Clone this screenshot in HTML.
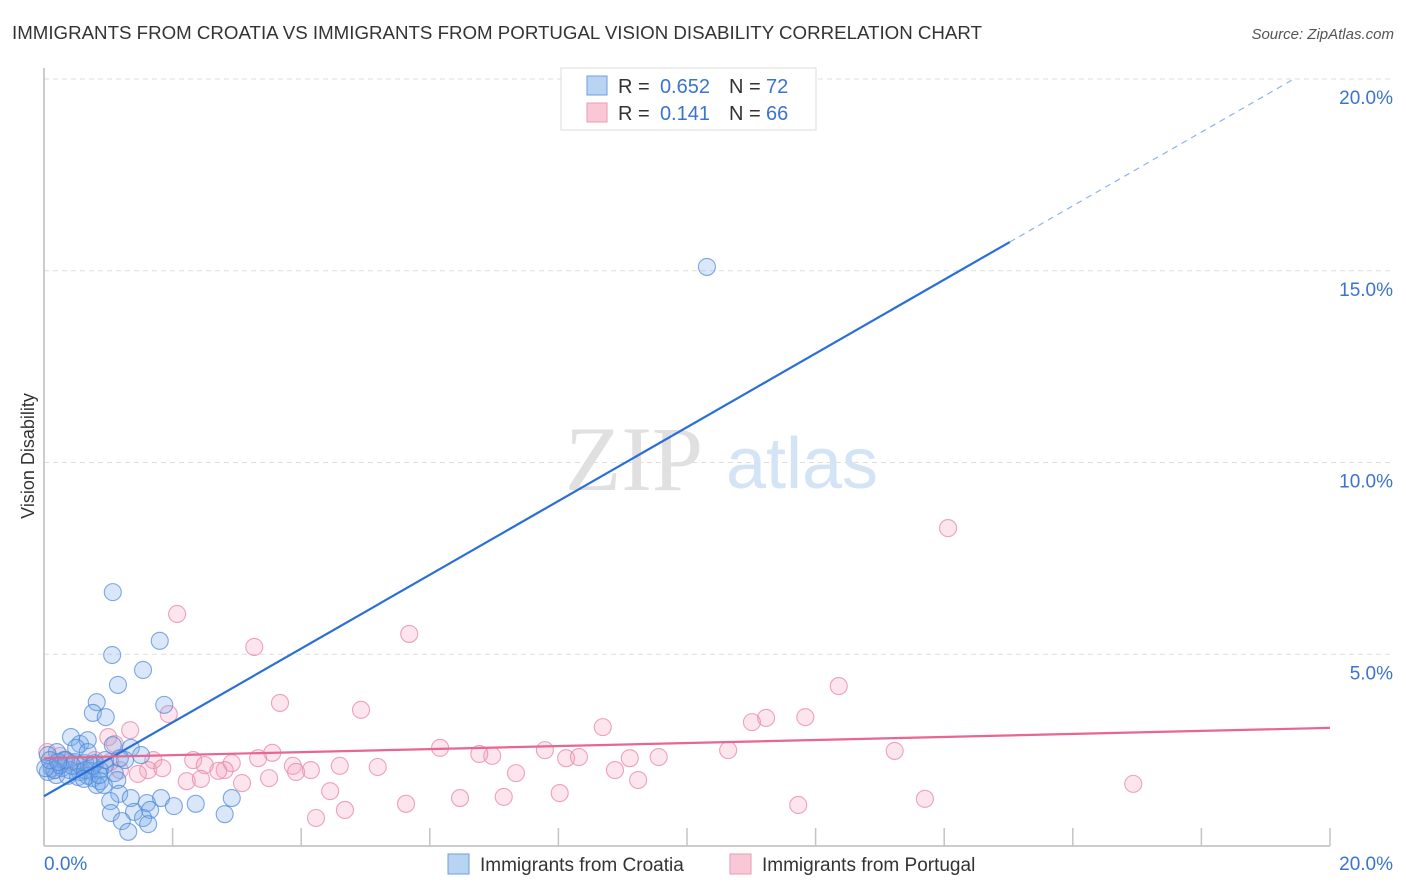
<!DOCTYPE html>
<html><head><meta charset="utf-8"><style>
body{margin:0;background:#fff;font-family:"Liberation Sans",sans-serif;}
svg{display:block}
</style></head><body>
<svg id="chart" width="1406" height="892" viewBox="0 0 1406 892" xmlns="http://www.w3.org/2000/svg">
<text x="12" y="39" font-size="18" fill="#333" textLength="970" lengthAdjust="spacingAndGlyphs">IMMIGRANTS FROM CROATIA VS IMMIGRANTS FROM PORTUGAL VISION DISABILITY CORRELATION CHART</text>
<text x="1394" y="39" font-size="15" fill="#555" font-style="italic" text-anchor="end">Source: ZipAtlas.com</text>
<g id="grid"></g>
<g>
<text x="634" y="490" font-size="92" fill="#e0e0e0" font-family="Liberation Serif, serif" text-anchor="middle">ZIP</text>
<text x="802" y="488" font-size="72" fill="#d4e3f5" text-anchor="middle">atlas</text>
</g>
<g id="axes"></g>
<g id="marks"></g>
<text transform="translate(34,456) rotate(-90)" font-size="18" fill="#333" text-anchor="middle">Vision Disability</text>
<g>
<rect x="561" y="68" width="255" height="62" fill="#fff" stroke="#ddd"/>
<rect x="587" y="76" width="20" height="19" fill="#b9d3f3" stroke="#6a9fe0"/>
<text x="618" y="93" font-size="20" fill="#333">R =</text>
<text x="710" y="93" font-size="20" fill="#3a74d0" text-anchor="end">0.652</text>
<text x="729" y="93" font-size="20" fill="#333">N =</text>
<text x="766" y="93" font-size="20" fill="#3a74d0">72</text>
<rect x="587" y="103" width="20" height="19" fill="#f8c8d6" stroke="#eb9ab4"/>
<text x="618" y="120" font-size="20" fill="#333">R =</text>
<text x="710" y="120" font-size="20" fill="#3a74d0" text-anchor="end">0.141</text>
<text x="729" y="120" font-size="20" fill="#333">N =</text>
<text x="766" y="120" font-size="20" fill="#3a74d0">66</text>
</g>
<g>
<rect x="448" y="854" width="21" height="20" fill="#b9d3f3" stroke="#6a9fe0"/>
<text x="480" y="871" font-size="19" fill="#333">Immigrants from Croatia</text>
<rect x="730" y="854" width="21" height="20" fill="#f8c8d6" stroke="#eb9ab4"/>
<text x="762" y="871" font-size="19" fill="#333">Immigrants from Portugal</text>
</g>
</svg>
<script>
const xTicks=[0,2,4,6,8,10,12,14,16,18,20];
const yTicks=[5,10,15,20];
const blueX=[10.31,1.07,1.80,1.06,1.54,1.15,1.87,0.82,0.76,0.96,0.42,0.56,0.68,1.07,1.35,1.51,0.20,0.06,0.31,0.48,0.64,0.79,0.95,1.26,0.12,0.28,0.40,0.56,0.72,0.87,0.06,0.19,0.37,0.53,0.68,0.76,0.87,1.10,1.14,0.82,0.93,1.17,1.35,1.82,1.60,1.03,1.40,1.65,1.54,2.02,2.36,2.92,2.81,1.04,1.21,1.62,1.31,0.25,0.34,0.44,0.16,0.02,0.09,0.64,1.18,0.50,0.68,0.75,0.22,0.86,0.62,0.95];
const blueY=[15.10,6.62,5.35,4.98,4.59,4.20,3.68,3.75,3.47,3.36,2.84,2.66,2.76,2.63,2.56,2.37,2.45,2.37,2.24,2.19,2.16,2.16,2.11,2.24,2.03,2.03,1.98,1.93,1.96,1.98,1.93,1.85,1.83,1.80,1.83,1.77,1.69,1.90,1.72,1.59,1.59,1.36,1.25,1.25,1.12,1.17,0.89,0.94,0.73,1.04,1.10,1.25,0.83,0.86,0.65,0.57,0.37,2.11,2.24,2.09,1.98,2.03,2.24,1.98,2.29,2.56,2.45,2.09,2.19,1.85,1.75,2.24];
const pinkX=[14.06,2.07,5.68,3.27,12.36,3.67,4.93,1.94,11.23,11.84,11.01,8.69,1.34,1.00,6.16,7.79,1.10,13.23,10.64,3.55,2.32,2.92,6.97,6.77,8.12,8.32,9.11,9.56,1.70,3.33,1.62,1.84,2.81,2.71,3.87,4.15,4.60,5.19,2.50,8.88,7.34,9.24,2.22,2.44,3.08,3.50,3.92,1.46,4.45,6.47,7.15,8.02,5.63,4.68,4.23,11.73,13.70,16.94,0.05,0.25,0.40,0.56,0.79,0.17,1.18,1.03];
const pinkY=[8.29,6.05,5.53,5.19,4.17,3.73,3.55,3.44,3.34,3.36,3.23,3.10,3.02,2.84,2.56,2.50,2.66,2.48,2.50,2.43,2.24,2.16,2.35,2.40,2.29,2.32,2.29,2.32,2.24,2.29,1.98,2.03,1.98,1.96,2.09,1.98,2.09,2.06,2.11,1.98,1.90,1.72,1.69,1.75,1.64,1.77,1.93,1.88,1.43,1.25,1.28,1.38,1.10,0.94,0.73,1.07,1.23,1.62,2.45,2.35,2.19,2.11,2.24,1.98,1.98,2.19];
const blueTrend=[1.30,0.962];
const pinkTrend=[2.29,0.0395];
const NS='http://www.w3.org/2000/svg';
const X0=44,X1=1330,Y0=846,Y1=79;
function sx(v){return X0+(v-0)/(20-0)*(X1-X0);}
function sy(v){return Y0-(v-0)/(20-0)*(Y0-Y1);}
function mk(tag,attrs,parent){const e=document.createElementNS(NS,tag);for(const k in attrs)e.setAttribute(k,attrs[k]);parent.appendChild(e);return e;}
const grid=document.getElementById('grid'),axes=document.getElementById('axes'),marks=document.getElementById('marks');
yTicks.forEach(t=>{
  const l=mk('line',{x1:X0,x2:1394,y1:sy(t),y2:sy(t),stroke:'#ddd','stroke-dasharray':'5,4'},grid);
  
  
  const tx=mk('text',{x:1393,y:sy(t)+25,'font-size':19,fill:'#3a74d0','text-anchor':'end'},axes);
  tx.textContent=t.toFixed(1)+'%';
  
  
});
const ax=mk('line',{x1:X0,x2:X0,y1:68,y2:Y0,stroke:'#bbb','stroke-width':1.5},axes);


const bx=mk('line',{x1:X0,x2:X1,y1:Y0,y2:Y0,stroke:'#bbb','stroke-width':1.5},axes);


xTicks.forEach(t=>{
  const l=mk('line',{x1:sx(t),x2:sx(t),y1:Y0,y2:Y0-18,stroke:'#c4c4c4','stroke-width':1.5},axes);
  
  
});
[[0,'start'],[20,'end']].forEach(([t,a])=>{
  const tx=mk('text',{x:t===0?44:1393,y:870,'font-size':19,fill:'#3a74d0','text-anchor':a},axes);
  tx.textContent=t.toFixed(1)+'%';
  
  
});
function dots(xs,ys,fill,stroke,name){
  xs.forEach((v,i)=>{
    const c=mk('circle',{cx:sx(v),cy:sy(ys[i]),r:8.5,fill:fill,stroke:stroke,'stroke-width':1.1},marks);
    
    
  });
}
dots(pinkX,pinkY,'rgba(243,160,188,0.28)','rgba(232,140,172,0.8)','point-portugal');
dots(blueX,blueY,'rgba(120,170,232,0.28)','rgba(74,134,216,0.7)','point-croatia');
const bxEnd=15.02, bxMax=(20-blueTrend[0])/blueTrend[1];
const b1=mk('line',{x1:sx(0),y1:sy(blueTrend[0]),x2:sx(bxEnd),y2:sy(blueTrend[0]+blueTrend[1]*bxEnd),stroke:'#2a6fd6','stroke-width':2.2},marks);


const b2=mk('line',{x1:sx(bxEnd),y1:sy(blueTrend[0]+blueTrend[1]*bxEnd),x2:sx(bxMax),y2:sy(20),stroke:'#8fb3e8','stroke-width':1.2,'stroke-dasharray':'6,5'},marks);


const p1=mk('line',{x1:sx(0),y1:sy(pinkTrend[0]),x2:sx(20),y2:sy(pinkTrend[0]+pinkTrend[1]*20),stroke:'#e8668f','stroke-width':2.2},marks);


</script>
</body></html>
